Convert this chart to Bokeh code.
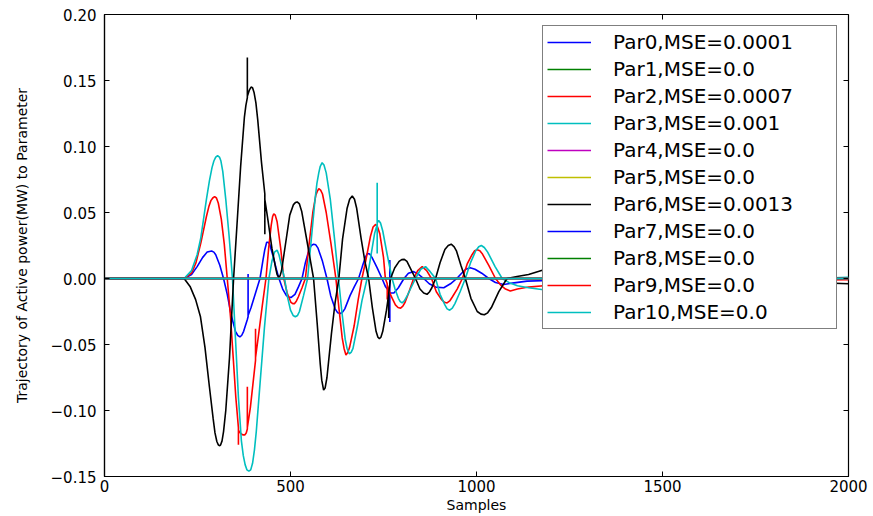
import math
from bokeh.plotting import figure
from bokeh.models import FixedTicker, Range1d
from bokeh.embed import file_html
from bokeh.resources import INLINE

# ---------------- data ----------------
X_LIMITS = [0, 2000]
Y_LIMITS = [-0.15, 0.20]
X_TICKS = [0, 500, 1000, 1500, 2000]
Y_TICKS = [-0.15, -0.10, -0.05, 0.0, 0.05, 0.10, 0.15, 0.20]
Y_TICK_LABELS = ["\u22120.15", "\u22120.10", "\u22120.05", "0.00", "0.05", "0.10", "0.15", "0.20"]

LEGEND_LABELS = ["Par0,MSE=0.0001", "Par1,MSE=0.0", "Par2,MSE=0.0007", "Par3,MSE=0.001",
                 "Par4,MSE=0.0", "Par5,MSE=0.0", "Par6,MSE=0.0013", "Par7,MSE=0.0",
                 "Par8,MSE=0.0", "Par9,MSE=0.0", "Par10,MSE=0.0"]
COLORS = ["#0000ff", "#008000", "#ff0000", "#00bfbf", "#bf00bf", "#bfbf00", "#000000",
          "#0000ff", "#008000", "#ff0000", "#00bfbf"]

# (sample, value) pairs
PAR0 = [(0, 0.0), (200, 0.0), (214, 0.0), (234, 0.003), (249, 0.009), (264, 0.016), (276, 0.020),
        (282, 0.0205), (288, 0.0208), (294, 0.020), (299, 0.018), (310, 0.010), (320, 0.0),
        (330, -0.012), (340, -0.027), (352, -0.040), (358, -0.043), (364, -0.0443), (369, -0.043),
        (374, -0.040), (384, -0.031), (386, -0.029), (386, 0.0035),
        (386, -0.028), (394, -0.022), (406, -0.011), (418, 0.0), (426, 0.014), (431, 0.022),
        (436, 0.0275), (440, 0.0275), (444, 0.026), (454, 0.016), (462, 0.007), (469, 0.0),
        (479, -0.008), (489, -0.013), (496, -0.0142), (502, -0.0143), (512, -0.012), (522, -0.006),
        (531, 0.0), (540, 0.012), (550, 0.022), (556, 0.025), (562, 0.026), (568, 0.0255),
        (574, 0.023), (586, 0.013), (598, 0.0), (608, -0.013), (620, -0.023), (627, -0.026),
        (634, -0.0265), (640, -0.0255), (646, -0.023), (660, -0.013), (672, -0.006), (683, 0.0),
        (693, 0.009), (701, 0.016), (707, 0.019), (713, 0.0185), (719, 0.016), (733, 0.008),
        (746, 0.0), (755, -0.006), (763, -0.009), (767, -0.010), (767, 0.014), (767, -0.033),
        (767, -0.011), (778, -0.011), (790, -0.007), (805, 0.0), (817, 0.004), (831, 0.0052),
        (845, 0.003), (858, 0.0), (873, -0.004), (890, -0.0065), (912, -0.007), (930, -0.004),
        (947, 0.0), (960, 0.004), (971, 0.007), (983, 0.0082), (996, 0.007), (1014, 0.004),
        (1033, 0.0), (1051, -0.003), (1073, -0.0045), (1096, -0.0035), (1136, -0.002),
        (1196, -0.0015), (1400, -0.0008), (1700, -0.0003), (2000, 0.0)]

PAR2 = [(0, 0.0), (200, 0.0), (214, 0.0), (234, 0.004), (246, 0.012), (259, 0.027), (274, 0.047),
        (281, 0.055), (286, 0.059), (291, 0.061), (296, 0.062), (301, 0.061), (306, 0.057),
        (314, 0.045), (322, 0.026), (330, 0.0),
        (339, -0.03), (346, -0.06), (353, -0.09), (360, -0.113), (360, -0.126), (360, -0.115),
        (365, -0.117), (369, -0.118), (373, -0.1185), (377, -0.1185), (381, -0.117),
        (384, -0.114), (384, -0.082), (384, -0.113), (392, -0.098),
        (399, -0.08), (406, -0.062), (406, -0.038), (406, -0.060), (414, -0.043), (424, -0.021),
        (434, 0.0), (441, 0.022), (448, 0.040), (452, 0.047), (455, 0.049), (459, 0.048),
        (464, 0.043), (474, 0.022), (482, 0.0), (491, -0.011), (501, -0.018), (506, -0.019),
        (511, -0.019), (516, -0.017), (521, -0.014), (531, -0.007),
        (540, 0.0), (550, 0.026), (560, 0.050), (568, 0.063), (572, 0.066), (576, 0.068),
        (581, 0.067), (586, 0.064), (596, 0.050), (609, 0.026), (622, 0.0), (630, -0.022),
        (639, -0.045), (644, -0.053), (649, -0.058), (654, -0.056), (659, -0.052), (671, -0.036),
        (682, -0.016), (692, 0.0), (702, 0.013), (715, 0.032), (722, 0.039), (729, 0.041),
        (734, 0.039), (740, 0.034), (750, 0.016), (755, 0.0), (760, -0.004), (760, -0.016),
        (760, -0.005), (770, -0.013), (782, -0.020), (789, -0.022), (796, -0.0225), (802, -0.021),
        (808, -0.018), (820, -0.009),
        (831, 0.0), (842, 0.006), (854, 0.009), (866, 0.006), (879, 0.0), (892, -0.010),
        (906, -0.016), (914, -0.018), (921, -0.0185), (928, -0.017), (935, -0.014), (948, -0.008),
        (962, 0.0), (975, 0.011), (988, 0.018), (995, 0.021), (1002, 0.0217), (1009, 0.021),
        (1015, 0.019), (1033, 0.010), (1051, 0.0), (1065, -0.005),
        (1078, -0.008), (1091, -0.0095), (1110, -0.008), (1140, -0.0065), (1180, -0.0055),
        (1300, -0.004), (1600, -0.002), (2000, -0.001)]

PAR3 = [(0, 0.0), (200, 0.0), (214, 0.0), (234, 0.006), (249, 0.018), (259, 0.031), (274, 0.060),
        (282, 0.074), (289, 0.084), (294, 0.089), (299, 0.092), (304, 0.093), (309, 0.092),
        (313, 0.089), (318, 0.081), (326, 0.060), (335, 0.032), (344, 0.0),
        (352, -0.045), (360, -0.09), (368, -0.123), (373, -0.134), (378, -0.141), (383, -0.145),
        (388, -0.146), (393, -0.145), (398, -0.140), (403, -0.130), (408, -0.116),
        (418, -0.080), (430, -0.037), (442, 0.0), (450, 0.013), (457, 0.020),
        (464, 0.0215), (469, 0.018), (474, 0.012), (484, 0.0), (492, -0.014), (500, -0.024),
        (507, -0.028), (513, -0.029), (519, -0.028), (524, -0.025), (535, -0.013), (546, 0.0),
        (556, 0.030), (566, 0.060), (571, 0.072), (576, 0.080), (580, 0.085), (585, 0.0877),
        (590, 0.086), (596, 0.080), (607, 0.060), (618, 0.031), (629, 0.0), (638, -0.025),
        (647, -0.046), (652, -0.053), (658, -0.057), (663, -0.056), (668, -0.053), (680, -0.036),
        (692, -0.017), (706, 0.0),
        (716, 0.017), (726, 0.034), (733, 0.041), (733, 0.0725), (733, 0.019), (733, 0.042),
        (737, 0.044), (742, 0.042), (748, 0.036), (760, 0.018), (773, 0.0), (781, -0.008),
        (790, -0.015), (795, -0.0175), (800, -0.0185), (806, -0.017), (812, -0.014), (824, -0.007),
        (836, 0.0), (850, 0.007), (863, 0.009), (876, 0.005), (890, 0.0), (902, -0.012),
        (915, -0.020), (921, -0.023), (928, -0.024), (935, -0.0225), (942, -0.019),
        (956, -0.010), (970, 0.0), (984, 0.012), (998, 0.021), (1006, 0.024), (1013, 0.025),
        (1021, 0.0235), (1030, 0.020),
        (1050, 0.009), (1069, 0.0), (1090, -0.0035), (1110, -0.0055), (1140, -0.007),
        (1180, -0.0085), (1300, -0.007), (1600, -0.003), (1900, 0.0), (2000, 0.001)]

PAR6 = [(0, 0.0), (200, 0.0), (214, 0.0), (230, -0.006), (245, -0.016), (258, -0.029), (270, -0.052),
        (282, -0.082), (292, -0.106), (297, -0.117), (302, -0.1235), (306, -0.126), (309, -0.1267),
        (312, -0.1262), (316, -0.123), (320, -0.116), (326, -0.100),
        (336, -0.060), (347, 0.0), (356, 0.040), (366, 0.085), (376, 0.122), (380, 0.131),
        (384, 0.137), (384, 0.1675), (384, 0.138), (389, 0.1425), (394, 0.145), (398, 0.1445),
        (402, 0.141), (407, 0.133), (412, 0.120), (422, 0.088),
        (431, 0.064), (431, 0.0335), (431, 0.060), (440, 0.043), (450, 0.023), (460, 0.008),
        (464, 0.003), (468, 0.001), (472, 0.002), (476, 0.006), (486, 0.025), (498, 0.048),
        (508, 0.056), (513, 0.0575), (518, 0.058), (524, 0.0565),
        (530, 0.051), (542, 0.032), (552, 0.016), (562, 0.0), (572, -0.035), (580, -0.065),
        (584, -0.077), (589, -0.0845), (593, -0.083), (598, -0.075), (610, -0.042), (620, -0.018),
        (630, 0.0), (640, 0.030), (652, 0.053), (659, 0.060), (666, 0.0625), (672, 0.060),
        (678, 0.053), (690, 0.030), (700, 0.013), (710, 0.0),
        (720, -0.022), (730, -0.040), (735, -0.0445), (739, -0.0455), (743, -0.0445),
        (748, -0.040), (758, -0.024), (764, -0.012),
        (764, -0.030), (764, -0.011), (769, 0.0), (780, 0.008), (792, 0.013), (799, 0.0143),
        (806, 0.0145), (813, 0.013), (820, 0.009), (836, 0.0), (848, -0.008), (858, -0.011),
        (867, -0.012), (874, -0.010), (880, -0.007), (890, 0.0), (902, 0.012), (915, 0.022),
        (924, 0.025), (932, 0.026), (940, 0.024), (946, 0.021), (958, 0.010),
        (970, 0.0), (985, -0.015), (1002, -0.025), (1012, -0.027), (1021, -0.0275),
        (1030, -0.026), (1040, -0.022), (1060, -0.010),
        (1082, 0.0), (1109, 0.0015), (1140, 0.003), (1179, 0.0065), (1250, 0.009), (1400, 0.007),
        (1600, 0.002), (1800, -0.002), (2000, -0.004)]

FLAT = [(0, 0.0), (2000, 0.0)]   # Par1, Par4, Par5, Par7, Par8, Par9, Par10

SERIES_DATA = [PAR0, FLAT, PAR2, PAR3, FLAT, FLAT, PAR6, FLAT, FLAT, FLAT, FLAT]

# ---------------- figure ----------------
FONT = "DejaVu Sans"

p = figure(width=873, height=516, output_backend="svg", toolbar_location=None,
           x_range=Range1d(X_LIMITS[0], X_LIMITS[1]), y_range=Range1d(Y_LIMITS[0], Y_LIMITS[1]),
           min_border_left=104, min_border_right=25, min_border_top=14, min_border_bottom=40,
           background_fill_color="white", border_fill_color="white")
p.grid.visible = False
p.outline_line_color = "black"
p.outline_line_width = 1.2
p.outline_line_alpha = 1.0

for label, color, data in zip(LEGEND_LABELS, COLORS, SERIES_DATA):
    xs = [d[0] for d in data]
    ys = [d[1] for d in data]
    p.line(xs, ys, line_color=color, line_width=1.6, legend_label=label)

# inward tick marks on the top and right spines
p.ray(x=X_TICKS, y=[Y_LIMITS[1]] * len(X_TICKS), length=5, length_units="screen",
      angle=-math.pi / 2, line_color="black", line_width=1)
p.ray(x=[X_LIMITS[1]] * len(Y_TICKS), y=Y_TICKS, length=5, length_units="screen",
      angle=math.pi, line_color="black", line_width=1)


def style_axis(ax):
    ax.axis_line_color = "black"
    ax.axis_line_width = 1.2
    ax.major_tick_line_color = "black"
    ax.major_tick_in = 5
    ax.major_tick_out = 0
    ax.minor_tick_line_color = None
    ax.major_label_text_font = FONT
    ax.major_label_text_color = "black"
    ax.axis_label_text_font = FONT
    ax.axis_label_text_font_style = "normal"
    ax.axis_label_text_color = "black"


xa = p.xaxis[0]
xa.ticker = FixedTicker(ticks=X_TICKS)
style_axis(xa)
xa.major_label_text_font_size = "15px"
xa.major_label_standoff = 3
xa.axis_label = "Samples"
xa.axis_label_text_font_size = "14px"
xa.axis_label_standoff = 2

ya = p.yaxis[0]
ya.ticker = FixedTicker(ticks=Y_TICKS)
style_axis(ya)
ya.major_label_overrides = {t: s for t, s in zip(Y_TICKS, Y_TICK_LABELS)}
ya.major_label_text_font_size = "15px"
ya.major_label_standoff = 8
ya.axis_label = "Trajectory of Active power(MW) to Parameter"
ya.axis_label_text_font_size = "14px"
ya.axis_label_standoff = 18

lg = p.legend[0]
lg.location = "top_right"
lg.margin = 11
lg.padding = 4
lg.spacing = 3
lg.glyph_width = 44
lg.glyph_height = 20
lg.label_standoff = 22
lg.label_width = 219
lg.label_height = 20
lg.label_text_font = FONT
lg.label_text_font_size = "20px"
lg.label_text_color = "black"
lg.border_line_color = "black"
lg.border_line_width = 1.2
lg.background_fill_color = "white"
lg.background_fill_alpha = 1.0

open("out.html", "w").write(file_html(p, INLINE))
